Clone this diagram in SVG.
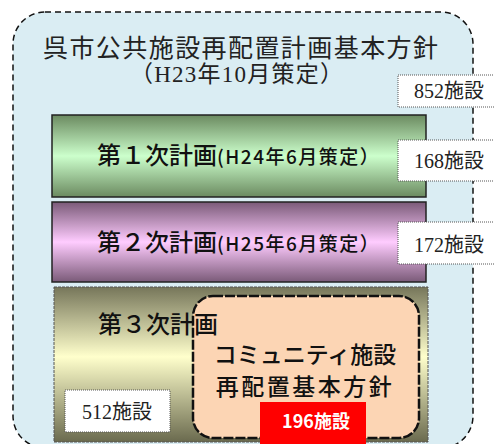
<svg xmlns="http://www.w3.org/2000/svg" width="494" height="444" viewBox="0 0 494 444">
<defs>
<linearGradient id="gG" x1="0" y1="0" x2="0" y2="1">
<stop offset="0" stop-color="#6b8a60"/><stop offset="0.5" stop-color="#ccffcc"/><stop offset="1" stop-color="#6b8a60"/>
</linearGradient>
<linearGradient id="gP" x1="0" y1="0" x2="0" y2="1">
<stop offset="0" stop-color="#7a5a78"/><stop offset="0.5" stop-color="#ffccff"/><stop offset="1" stop-color="#7a5a78"/>
</linearGradient>
<linearGradient id="gY" x1="0" y1="0" x2="0" y2="1">
<stop offset="0" stop-color="#76765a"/><stop offset="0.45" stop-color="#ffffcc"/><stop offset="1" stop-color="#6a6a4e"/>
</linearGradient>
<style>
.serif{font-family:"Liberation Serif","Noto Sans CJK JP",serif;fill:#222}
.goth{font-family:"Noto Sans CJK JP","Liberation Sans",sans-serif;fill:#111;font-weight:500}
.side{fill:#fff;stroke:#555;stroke-width:1;stroke-dasharray:1 1}
.band{stroke:#222;stroke-width:1.5}
</style>
</defs>
<g id="outer">
<rect x="13" y="12" width="460" height="436" rx="32" fill="#daedf3" stroke="#111" stroke-width="1.5" stroke-dasharray="6 4"/>
<text class="serif" x="43" y="57" font-size="25" textLength="395" lengthAdjust="spacing">呉市公共施設再配置計画基本方針</text>
<text class="serif" x="130" y="82" font-size="23" textLength="213" lengthAdjust="spacing">（H23年10月策定）</text>
</g>
<g id="count852">
<rect class="side" x="398" y="75" width="100" height="32"/>
<text class="serif" x="414" y="98" font-size="20">852施設</text>
</g>
<g id="plan1">
<rect class="band" x="52" y="115" width="374" height="82" fill="url(#gG)"/>
<text class="goth" x="97" y="164" font-size="24">第１次計画<tspan font-size="19" letter-spacing="1.5">(H24年6月策定）</tspan></text>
</g>
<g id="count168">
<rect class="side" x="398" y="140" width="100" height="41"/>
<text class="serif" x="414" y="168" font-size="20">168施設</text>
</g>
<g id="plan2">
<rect class="band" x="52" y="202" width="374" height="80" fill="url(#gP)"/>
<text class="goth" x="97" y="251" font-size="24">第２次計画<tspan font-size="19" letter-spacing="1.5">(H25年6月策定）</tspan></text>
</g>
<g id="count172">
<rect class="side" x="398" y="222" width="100" height="42"/>
<text class="serif" x="414" y="252" font-size="20">172施設</text>
</g>
<g id="plan3">
<rect x="54" y="287" width="374" height="155" fill="url(#gY)" stroke="#555" stroke-width="1" stroke-dasharray="3 1"/>
</g>
<g id="count512">
<rect class="side" x="65" y="390" width="105" height="42"/>
<text class="serif" x="82" y="419" font-size="20">512施設</text>
</g>
<g id="community">
<rect x="193" y="296" width="226" height="142" rx="20" fill="#fcd5b4" stroke="#111" stroke-width="2.5" stroke-dasharray="10 2"/>
<text class="goth" x="305" y="363" font-size="23" text-anchor="middle" font-weight="400">コミュニティ施設</text>
<text class="goth" x="305" y="395" font-size="23" text-anchor="middle" letter-spacing="2.5" font-weight="400">再配置基本方針</text>
</g>
<g id="count196">
<rect x="260" y="402" width="106" height="44" fill="#ff0000"/>
<text x="316" y="428" font-size="18" font-weight="bold" text-anchor="middle" fill="#fff" font-family="Noto Sans CJK JP,Liberation Sans,sans-serif">196施設</text>
</g>
<g id="plan3label">
<text class="goth" x="98" y="333" font-size="24">第３次計画</text>
</g>
<g id="connectors"/>
</svg>
